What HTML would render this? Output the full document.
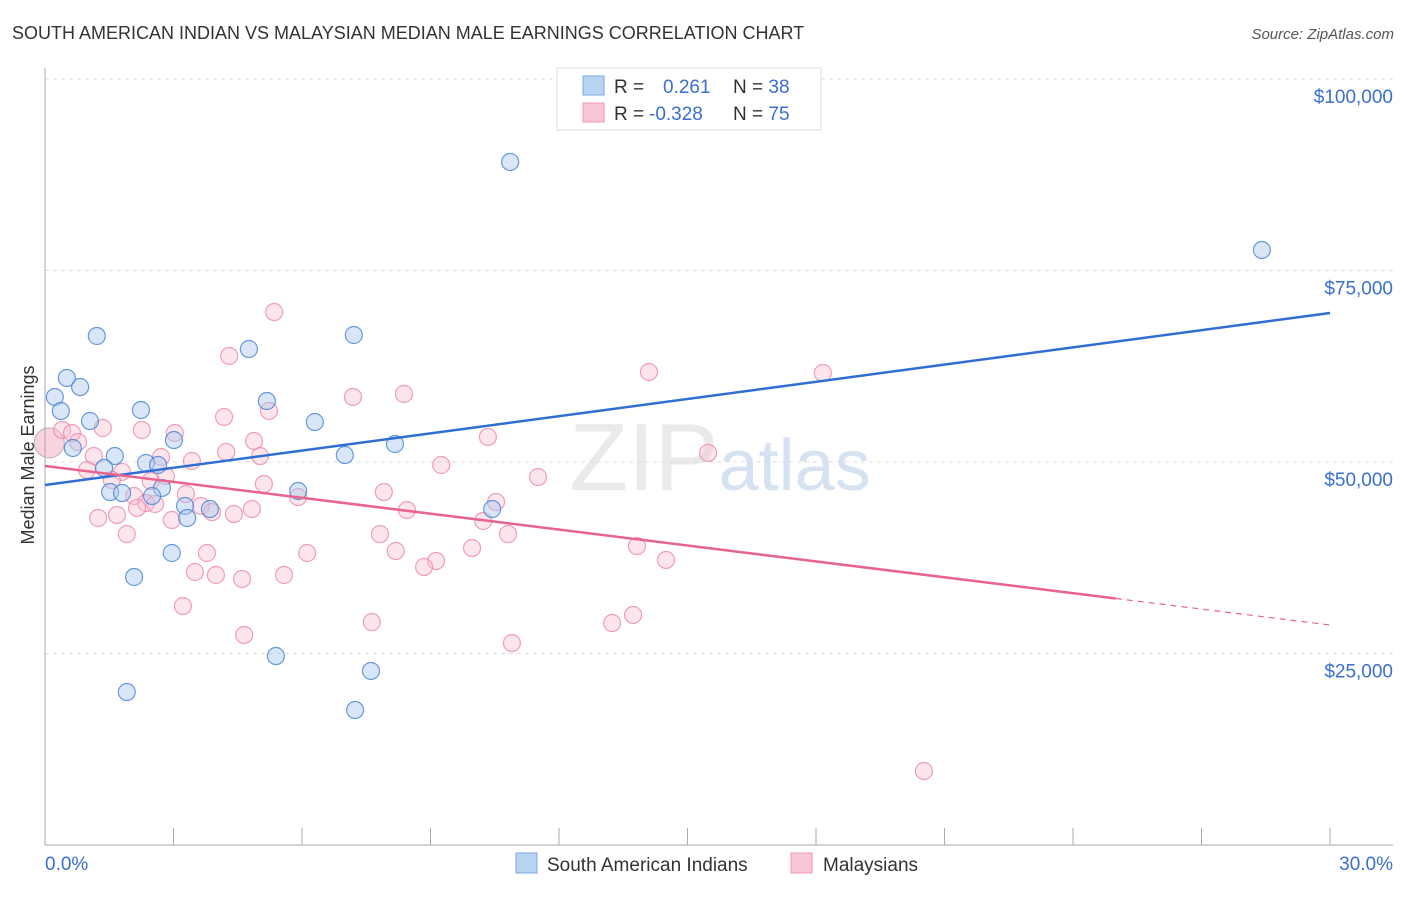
<!DOCTYPE html>
<html><head><meta charset="utf-8"><style>
body{margin:0;background:#fff;font-family:"Liberation Sans",sans-serif;}
svg text{font-family:"Liberation Sans",sans-serif;}
</style></head><body>
<svg id="chart" width="1406" height="892" xmlns="http://www.w3.org/2000/svg">
<text x="12" y="39" font-size="18" fill="#333">SOUTH AMERICAN INDIAN VS MALAYSIAN MEDIAN MALE EARNINGS CORRELATION CHART</text>
<text x="1394" y="39" font-size="15" fill="#555" text-anchor="end" font-style="italic">Source: ZipAtlas.com</text>
<text x="720" y="490" font-size="96" fill="#ddd" text-anchor="middle" font-family="Liberation Serif" opacity="0.6">ZIP<tspan fill="#b8cfe8" font-family="Liberation Sans" font-size="72">atlas</tspan></text>
<g id="grid"></g>
<g id="axes"></g>
<g id="pts"></g>
<g id="lines"></g>
<text transform="translate(34,455) rotate(-90)" font-size="18" fill="#333" text-anchor="middle">Median Male Earnings</text>
<g>
<rect x="557" y="68" width="264" height="62" fill="#fff" stroke="#ddd"/>
<rect x="583" y="76" width="21" height="19" fill="#b9d3f3" stroke="#7aa7e0"/>
<rect x="583" y="103" width="21" height="19" fill="#f9c6d5" stroke="#ec9ab3"/>
<text x="614" y="93" font-size="19" fill="#333">R = <tspan fill="#3a6fd0" x="663">0.261</tspan><tspan fill="#333" x="733">N = </tspan><tspan fill="#3a6fd0">38</tspan></text>
<text x="614" y="120" font-size="19" fill="#333">R = <tspan fill="#3a6fd0" x="649">-0.328</tspan><tspan fill="#333" x="733">N = </tspan><tspan fill="#3a6fd0">75</tspan></text>
</g>
<g>
<rect x="516" y="853" width="21" height="20" fill="#b9d3f3" stroke="#7aa7e0"/>
<text x="547" y="871" font-size="19" fill="#333">South American Indians</text>
<rect x="791" y="853" width="21" height="20" fill="#f9c6d5" stroke="#ec9ab3"/>
<text x="823" y="871" font-size="19" fill="#333">Malaysians</text>
</g>
</svg>
<script>
const yTicks=[25000,50000,75000,100000];
const yTickLabels=["$25,000","$50,000","$75,000","$100,000"];
const xTicks=[0,3,6,9,12,15,18,21,24,27,30];
const blueX=[10.86,28.41,1.21,4.76,7.21,0.51,0.82,0.23,0.37,2.24,5.18,1.05,6.30,3.01,8.17,0.65,1.63,7.00,1.38,2.36,2.64,1.52,1.80,2.73,2.50,5.91,3.27,3.85,3.32,10.44,2.96,2.08,5.39,7.61,1.91,7.24];
const blueY=[89170,77680,66450,64750,66580,60970,59790,58490,56660,56790,57960,55350,55220,52870,52350,51830,50780,50910,49220,49870,49610,46080,45950,46610,45560,46210,44260,43860,42690,43860,38120,34990,24670,22720,19970,17620];
const pinkX=[5.35,4.30,14.10,18.16,8.38,7.19,5.23,4.18,0.40,0.63,1.35,2.26,3.03,10.34,0.77,4.88,4.23,2.71,5.02,15.48,1.14,3.43,9.25,0.98,1.80,1.56,2.82,11.51,2.47,5.11,7.91,3.29,2.08,5.91,2.36,2.57,10.53,3.64,2.15,4.83,8.45,3.90,4.41,1.24,1.68,2.96,10.23,1.91,7.82,10.81,13.82,9.97,8.19,3.78,6.12,9.13,14.50,8.85,3.50,3.99,5.58,4.60,3.22,13.73,13.24,7.63,4.65,10.90,20.52];
const pinkY=[69580,63840,61750,61620,58880,58490,56660,55880,54180,53790,54440,54180,53790,53270,52610,52740,51310,50650,50780,51180,50780,50130,49610,48960,48700,47650,48170,48040,47520,47130,46080,45820,45560,45430,44650,44520,44780,44260,44000,43860,43730,43470,43210,42690,43080,42430,42300,40600,40600,40600,39030,38770,38380,38120,38120,37080,37210,36290,35640,35250,35250,34730,31200,30030,28980,29110,27420,26370,9660];
const blueTrend=[47000,69450];
const pinkTrend=[49480,28720];
const pinkSolidEnd=25;
const NS="http://www.w3.org/2000/svg";
const X=v=>45+v/30*1285, Y=v=>845-v/25000*191.5;
function mk(t,a,p){const e=document.createElementNS(NS,t);for(const k in a)e.setAttribute(k,a[k]);p.appendChild(e);return e;}
const grid=document.getElementById('grid'),axes=document.getElementById('axes'),pts=document.getElementById('pts'),lines=document.getElementById('lines');
yTicks.forEach((v,i)=>{
 const l=mk('line',{x1:45,x2:1393,y1:Y(v),y2:Y(v),stroke:'#ddd','stroke-dasharray':'4,4'},grid);
 
 
 const t=mk('text',{x:1393,y:Y(v)+24,'font-size':19,fill:'#3a6fd0','text-anchor':'end'},axes);
 t.textContent=yTickLabels[i];
 
 
});
const ya=mk('line',{x1:45,x2:45,y1:68,y2:845,stroke:'#aaa'},axes);


const xa=mk('line',{x1:45,x2:1393,y1:845,y2:845,stroke:'#aaa'},axes);


xTicks.forEach(v=>{const t=mk('line',{x1:X(v),x2:X(v),y1:828,y2:845,stroke:'#aaa'},axes);
 
 });
const xl0=mk('text',{x:45,y:870,'font-size':19,fill:'#3a6fd0'},axes);xl0.textContent=xTicks[0].toFixed(1)+'%';


const xl1=mk('text',{x:1393,y:870,'font-size':19,fill:'#3a6fd0','text-anchor':'end'},axes);xl1.textContent=xTicks[xTicks.length-1].toFixed(1)+'%';


mk('circle',{cx:X(0.1),cy:Y(52500),r:15,fill:'rgba(236,130,165,0.35)',stroke:'rgba(150,130,170,0.6)'},pts);
function dots(xs,ys,fill,stroke,name){xs.forEach((x,i)=>{const c=mk('circle',{cx:X(x),cy:Y(ys[i]),r:8.5,fill:fill,stroke:stroke,'stroke-width':1.2},pts);
 
 });}
dots(pinkX,pinkY,'rgba(249,190,208,0.4)','rgba(234,130,165,0.75)','malaysian-point');
dots(blueX,blueY,'rgba(170,200,240,0.45)','rgba(70,130,210,0.8)','south-american-indian-point');
const bl=mk('line',{x1:X(0),y1:Y(blueTrend[0]),x2:X(30),y2:Y(blueTrend[1]),stroke:'#2f6fd3','stroke-width':2.5},lines);


const py=x=>pinkTrend[0]+(pinkTrend[1]-pinkTrend[0])*x/30;
const pl=mk('line',{x1:X(0),y1:Y(py(0)),x2:X(pinkSolidEnd),y2:Y(py(pinkSolidEnd)),stroke:'#e8648f','stroke-width':2.5},lines);


const pd=mk('line',{x1:X(pinkSolidEnd),y1:Y(py(pinkSolidEnd)),x2:X(30),y2:Y(py(30)),stroke:'#e8648f','stroke-width':1.2,'stroke-dasharray':'6,5'},lines);


</script>
</body></html>
